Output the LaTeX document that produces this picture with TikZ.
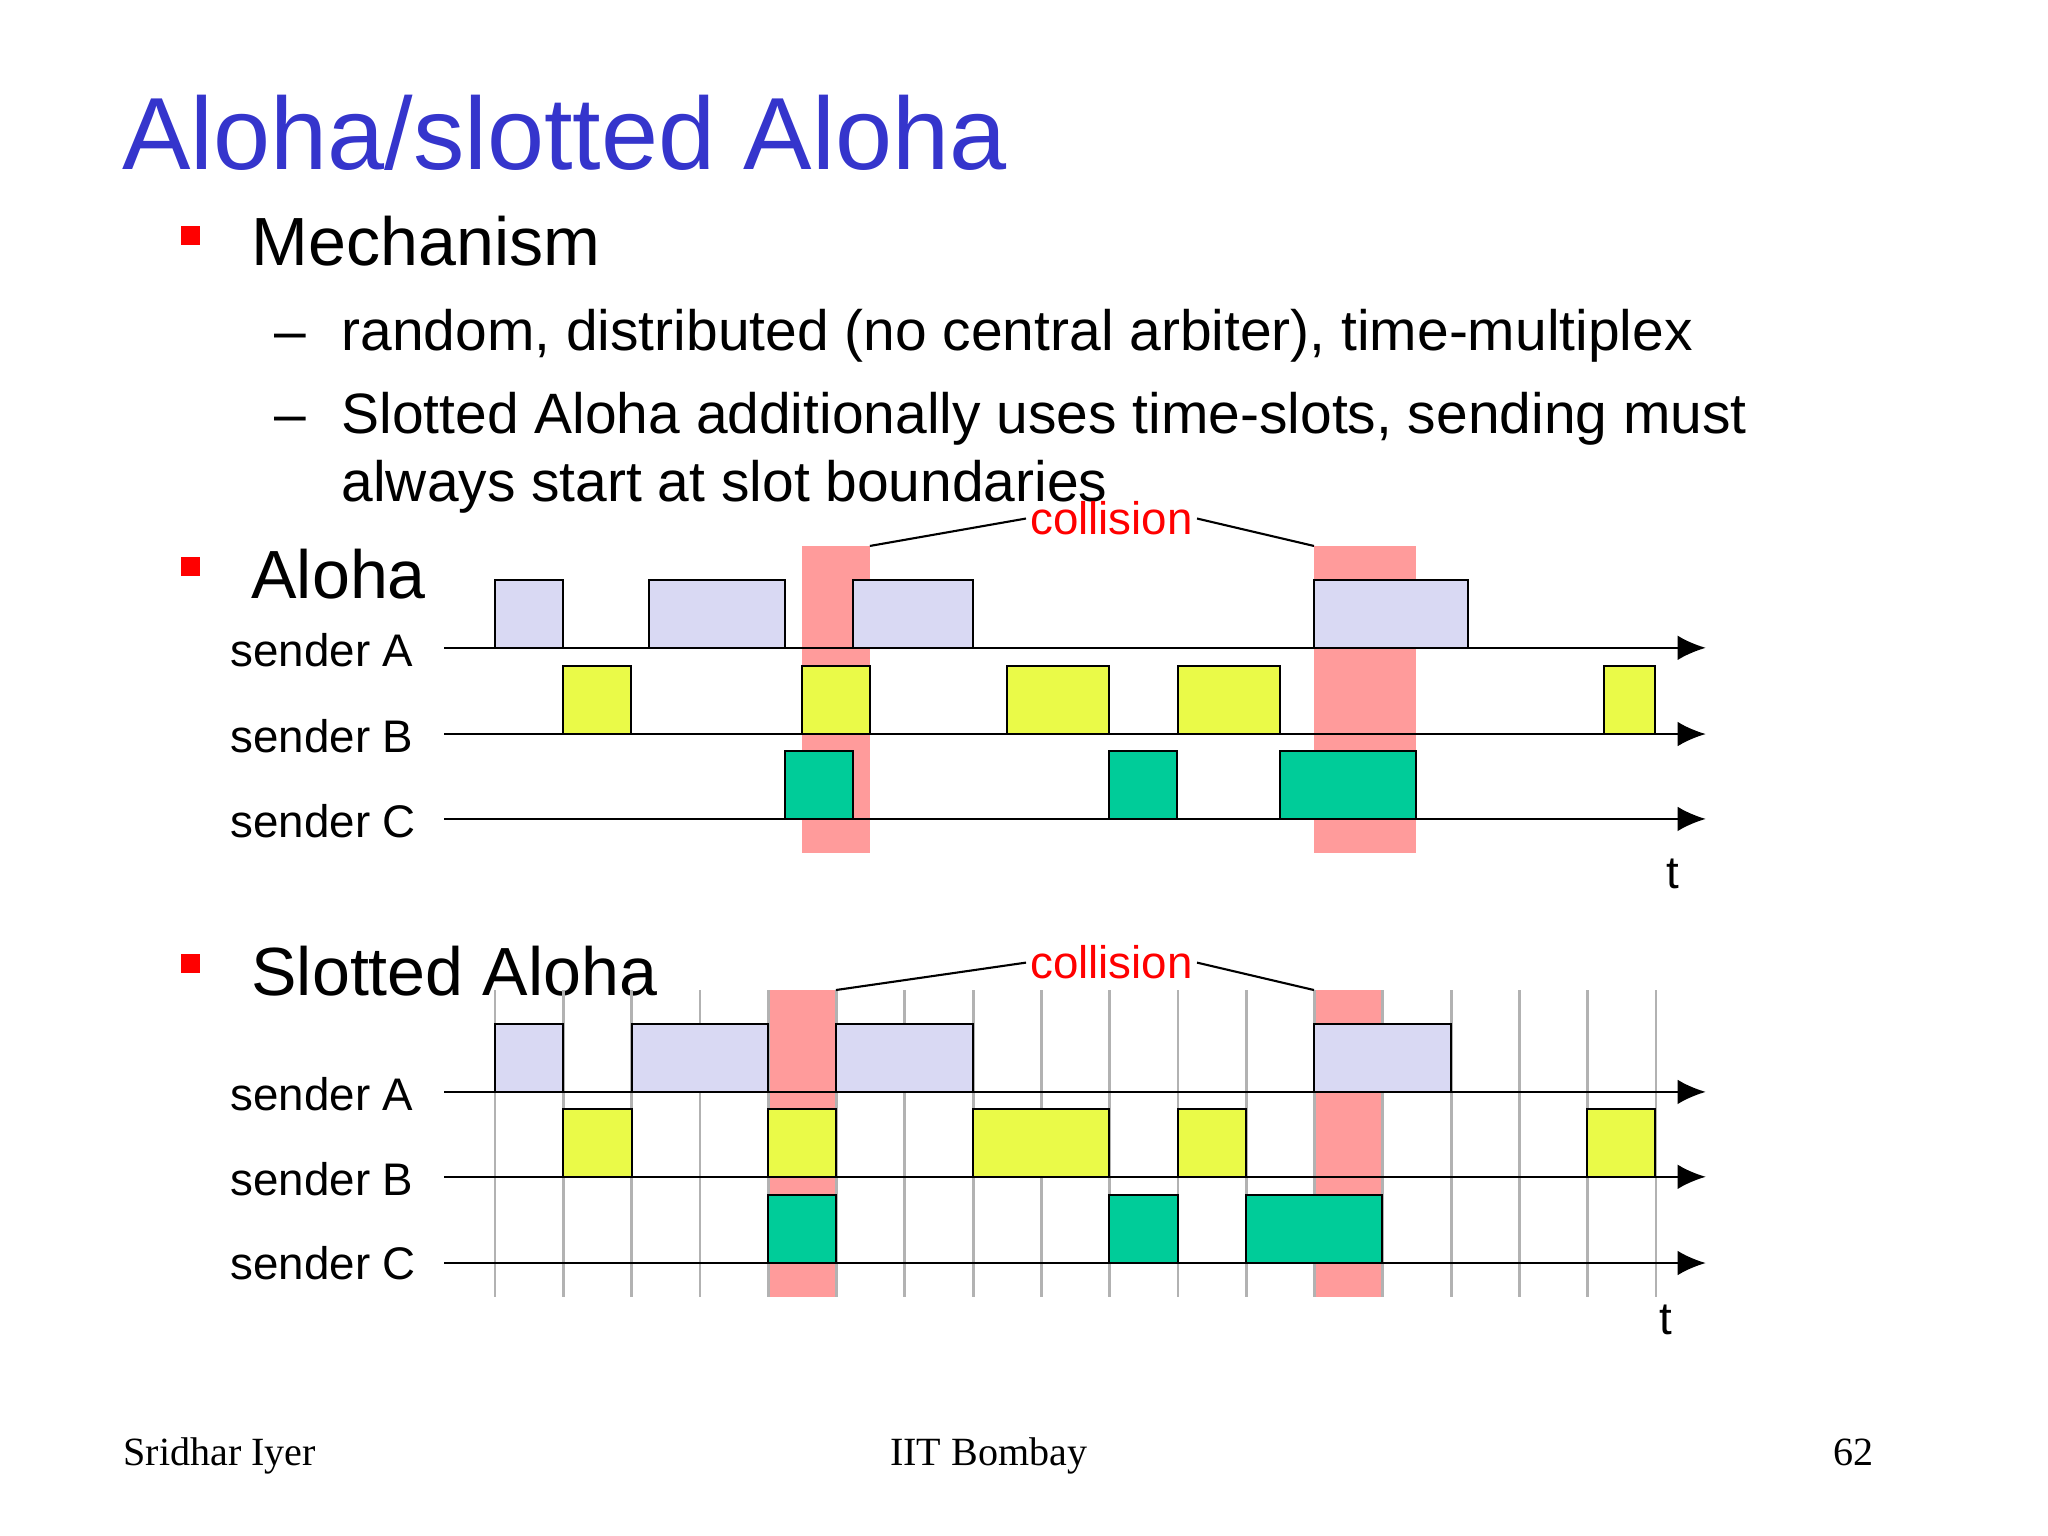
\documentclass[tikz,border=0pt]{standalone}
\usepackage{fontspec}
\setmainfont{Liberation Sans}
\newfontfamily\seriff{Liberation Serif}
\usetikzlibrary{arrows.meta}
\definecolor{cA}{HTML}{D9D9F3}
\definecolor{cB}{HTML}{EAFA48}
\definecolor{cC}{HTML}{00CC99}
\definecolor{coll}{HTML}{FF9B9B}
\definecolor{ttl}{HTML}{3535CC}
\tikzset{
 pk/.style={draw=black,line width=0.6pt},
 ax/.style={line width=0.7pt,-{Latex[length=8pt,width=7pt]}},
 lbl/.style={anchor=base west,font=\fontsize{13}{15}\selectfont,inner sep=0},
 bul/.style={fill=red,minimum size=0.19cm,inner sep=0},
 cl/.style={text=red,font=\fontsize{13}{15}\selectfont,inner sep=1pt},
}
\begin{document}
\begin{tikzpicture}[x=0.013061cm,y=-0.013061cm]
\useasboundingbox (0,0) rectangle (1568,1176);
\node[anchor=base west,text=ttl,font=\fontsize{29.2}{32}\selectfont,inner sep=0] (title) at (93,130) {Aloha/slotted Aloha};
\node[bul] (b1) at (146,180) {};
\node[anchor=base west,font=\fontsize{19.4}{22}\selectfont,inner sep=0] (mech) at (192,203) {Mechanism};
\node[anchor=base west,font=\fontsize{16.2}{19}\selectfont,inner sep=0] (d1) at (210,268) {–};
\node[anchor=base west,font=\fontsize{16.2}{19}\selectfont,inner sep=0] (l1) at (261,268) {random, distributed (no central arbiter), time-multiplex};
\node[anchor=base west,font=\fontsize{16.2}{19}\selectfont,inner sep=0] (d2) at (210,332) {–};
\node[anchor=base west,font=\fontsize{16.2}{19}\selectfont,inner sep=0] (l2) at (261,332) {Slotted Aloha additionally uses time-slots, sending must};
\node[anchor=base west,font=\fontsize{16.2}{19}\selectfont,inner sep=0] (l3) at (261,384) {always start at slot boundaries};
% Aloha
\node[bul] (b2) at (146,434) {};
\node[anchor=base west,font=\fontsize{19.4}{22}\selectfont,inner sep=0] (aloha) at (192,458) {Aloha};
\fill[coll] (614,418) rectangle (666,653);
\fill[coll] (1006,418) rectangle (1084,653);
\foreach \a/\b in {379/431,497/601,653/745,1006/1124} \draw[pk,fill=cA] (\a,444) rectangle (\b,496);
\foreach \a/\b in {431/483,614/666,771/849,902/980,1228/1267} \draw[pk,fill=cB] (\a,510) rectangle (\b,562);
\foreach \a/\b in {601/653,849/901,980/1084} \draw[pk,fill=cC] (\a,575) rectangle (\b,627);
\coordinate (aA0) at (340,496); \coordinate (aA1) at (1306,496);
\coordinate (aB0) at (340,562); \coordinate (aB1) at (1306,562);
\coordinate (aC0) at (340,627); \coordinate (aC1) at (1306,627);
\draw[ax] (aA0)--(aA1); \draw[ax] (aB0)--(aB1); \draw[ax] (aC0)--(aC1);
\node[lbl] (sa1) at (176,510) {sender A};
\node[lbl] (sb1) at (176,576) {sender B};
\node[lbl] (sc1) at (176,641) {sender C};
\node[lbl] (t1) at (1275,680) {t};
\node[cl] (c1) at (851,397) {collision};
\coordinate (c1l) at (666,418); \coordinate (c1r) at (1006,418);
\draw[line width=0.6pt] (c1l)--(c1.west); \draw[line width=0.6pt] (c1.east)--(c1r);
% Slotted
\node[bul] (b3) at (146,738) {};
\node[anchor=base west,font=\fontsize{19.4}{22}\selectfont,inner sep=0] (saloha) at (192,762) {Slotted Aloha};
\fill[coll] (588,758) rectangle (640,993);
\fill[coll] (1006,758) rectangle (1058,993);
\foreach \k in {0,...,17} \draw[gray!60,line width=0.8pt] ({379+52.29*\k},758)--({379+52.29*\k},993);
\foreach \a/\b in {379/431,484/588,640/745,1006/1111} \draw[pk,fill=cA] (\a,784) rectangle (\b,836);
\foreach \a/\b in {431/484,588/640,745/849,902/954,1215/1267} \draw[pk,fill=cB] (\a,849) rectangle (\b,901);
\foreach \a/\b in {588/640,849/902,954/1058} \draw[pk,fill=cC] (\a,915) rectangle (\b,967);
\coordinate (sA0) at (340,836); \coordinate (sA1) at (1306,836);
\coordinate (sB0) at (340,901); \coordinate (sB1) at (1306,901);
\coordinate (sC0) at (340,967); \coordinate (sC1) at (1306,967);
\draw[ax] (sA0)--(sA1); \draw[ax] (sB0)--(sB1); \draw[ax] (sC0)--(sC1);
\node[lbl] (sa2) at (176,850) {sender A};
\node[lbl] (sb2) at (176,915) {sender B};
\node[lbl] (sc2) at (176,980) {sender C};
\node[lbl] (t2) at (1270,1022) {t};
\node[cl] (c2) at (851,737) {collision};
\coordinate (c2l) at (640,758); \coordinate (c2r) at (1006,758);
\draw[line width=0.6pt] (c2l)--(c2.west); \draw[line width=0.6pt] (c2.east)--(c2r);
% footer
\node[anchor=base west,font=\seriff\fontsize{11.4}{13}\selectfont,inner sep=0] (f1) at (94,1122) {Sridhar Iyer};
\node[anchor=base,font=\seriff\fontsize{11.4}{13}\selectfont,inner sep=0] (f2) at (757,1122) {IIT Bombay};
\node[anchor=base east,font=\seriff\fontsize{11.4}{13}\selectfont,inner sep=0] (f3) at (1435,1122) {62};
\end{tikzpicture}
\end{document}
